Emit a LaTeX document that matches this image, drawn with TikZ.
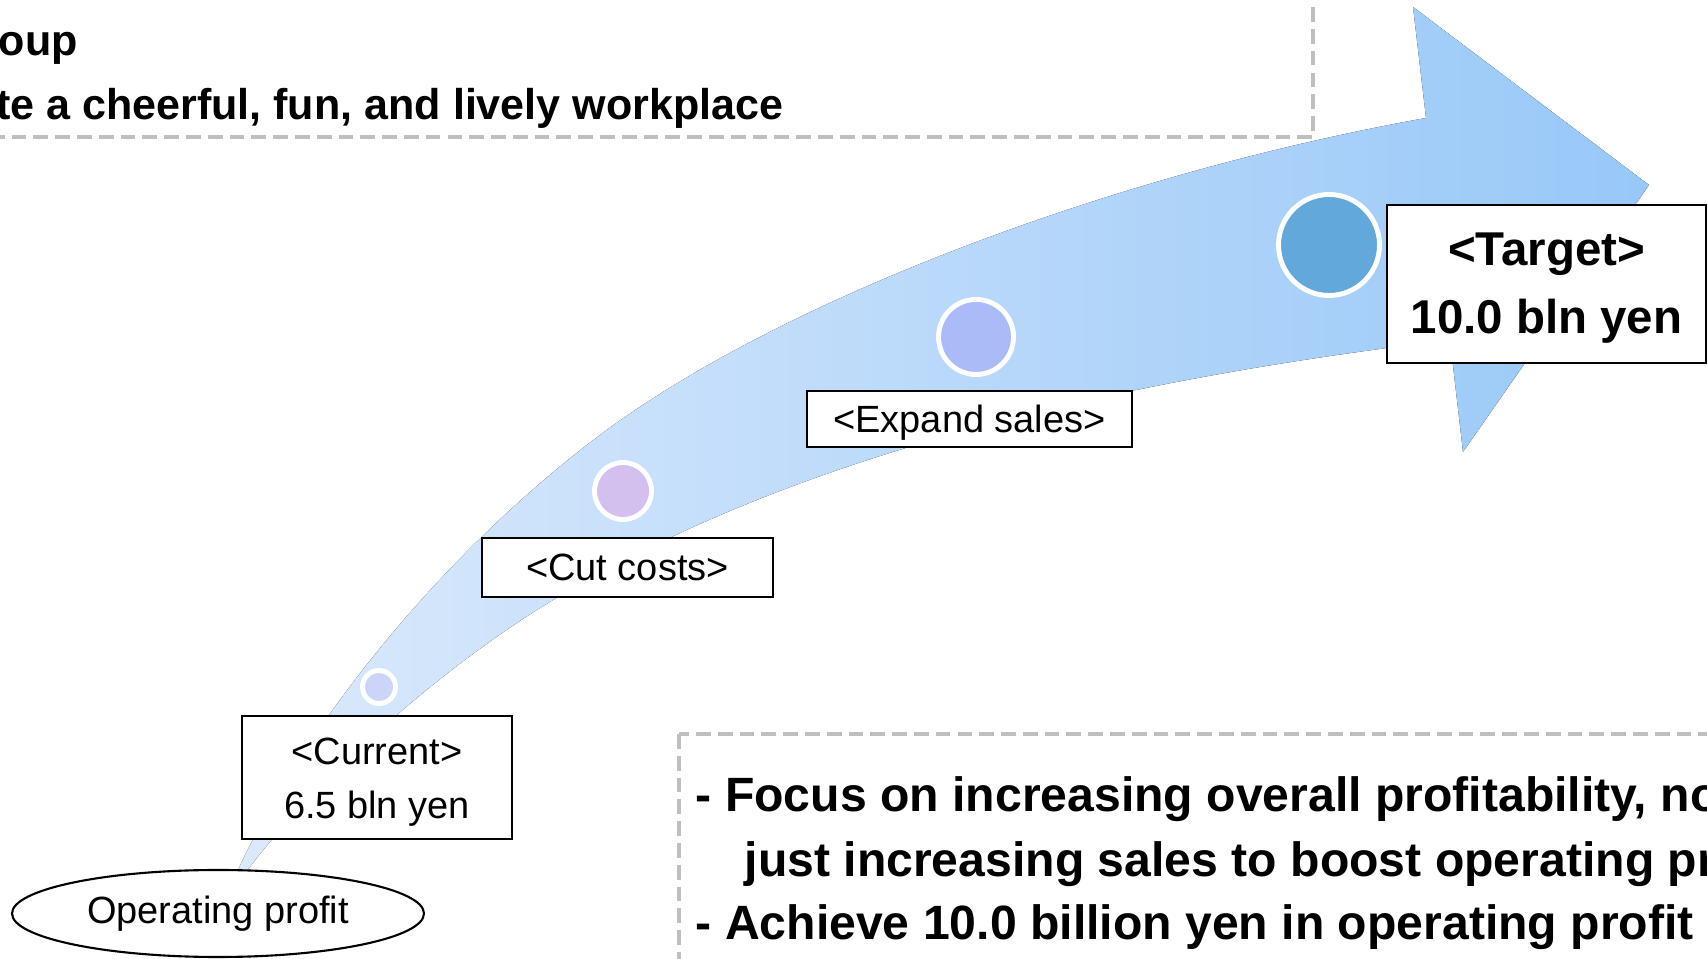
\documentclass[tikz,border=0pt]{standalone}
\usepackage{fontspec}
\setmainfont{Liberation Sans}
\usetikzlibrary{shapes.geometric}

\definecolor{bandleft}{HTML}{DCEAFC}
\definecolor{bandright}{HTML}{98C8F8}
\definecolor{framegray}{HTML}{BFBFBF}
\definecolor{dotnow}{HTML}{CCD5F8}
\definecolor{dotcut}{HTML}{D3C0EE}
\definecolor{dotsales}{HTML}{ABBBF7}
\definecolor{dotgoal}{HTML}{62A8DB}

\begin{document}
\begin{tikzpicture}[
    stagebox/.style={draw, line width=0.6pt, fill=white, inner sep=0pt, align=center},
    dashframe/.style={draw=framegray, line width=1.1pt, dash pattern=on 4.2pt off 2pt},
    milestone/.style={circle, draw=white, line width=1.4pt, inner sep=0pt},
    plain/.style={font=\fontsize{10.8}{15.4}\selectfont, align=center},
    heavy/.style={font=\bfseries\fontsize{13.5}{19.3}\selectfont, align=center},
    policy/.style={font=\bfseries\fontsize{13.7}{18}\selectfont, inner sep=0pt, anchor=base west},
    motto/.style={font=\bfseries\fontsize{12.25}{14}\selectfont, inner sep=0pt}
]
    \useasboundingbox (0,0) rectangle (17.07,9.59);
    \clip (0,0) rectangle (17.07,9.59);

    % dashed frames
    \draw[dashframe] (-0.5,10) rectangle (13.13,8.22);
    \draw[dashframe] (6.79,2.25) rectangle (17.6,-0.5);

    % motto text at the top
    \node[motto, anchor=base west] (group) at (-0.02,9.03) {oup};
    \node[motto, anchor=base east] (workplace) at (7.84,8.39) {ate a cheerful, fun, and lively workplace};

    % curved arrow
    \fill[left color=bandleft, right color=bandright]
        (2.22,0.51) .. controls (2.834,2.108) and (4.346,4.00) .. (6.00,5.24)
        .. controls (7.772,6.569) and (11.076,7.837) .. (14.26,8.41)
        -- (14.13,9.52) -- (16.49,7.74) -- (14.63,5.07) -- (14.50,6.19)
        .. controls (10.156,5.669) and (7.435,4.733) .. (5.53,3.59)
        .. controls (4.257,2.826) and (2.767,1.44) .. (2.22,0.51)
        -- cycle;

    % milestones
    \node[milestone, fill=dotnow, minimum size=0.33cm] (nowdot) at (3.79,2.72) {};
    \node[milestone, fill=dotcut, minimum size=0.57cm] (cutdot) at (6.23,4.68) {};
    \node[milestone, fill=dotsales, minimum size=0.75cm] (salesdot) at (9.76,6.22) {};
    \node[milestone, fill=dotgoal, minimum size=1.01cm] (goaldot) at (13.29,7.14) {};

    % stage boxes and their labels
    \node[stagebox, minimum width=2.70cm, minimum height=1.23cm] (current) at (3.77,1.815) {};
    \node[plain] (currentlbl) at ([yshift=-0.044cm]current.center) {<Current>\\6.5 bln yen};
    \node[stagebox, plain, minimum width=2.91cm, minimum height=0.59cm] (cutcosts) at (6.275,3.915) {<Cut costs>};
    \node[stagebox, minimum width=3.25cm, minimum height=0.56cm] (expand) at (9.695,5.40) {};
    \node[plain] (expandlbl) at ([yshift=-0.033cm]expand.center) {<Expand sales>};
    \node[stagebox, minimum width=3.19cm, minimum height=1.58cm] (target) at (15.465,6.75) {};
    \node[heavy] (targetlbl) at ([yshift=-0.044cm]target.center) {<Target>\\10.0 bln yen};
    \node[ellipse, draw, line width=0.6pt, fill=white, plain, minimum width=4.12cm, minimum height=0.87cm] (opprofit) at (2.18,0.455) {Operating profit};

    % policy text at the bottom
    \node[policy] (policy1) at (6.95,1.47) {- Focus on increasing overall profitability, no};
    \node[policy] (policy2) at (7.44,0.82) {just increasing sales to boost operating pr};
    \node[policy] (policy3) at (6.95,0.19) {- Achieve 10.0 billion yen in operating profit};
\end{tikzpicture}
\end{document}
